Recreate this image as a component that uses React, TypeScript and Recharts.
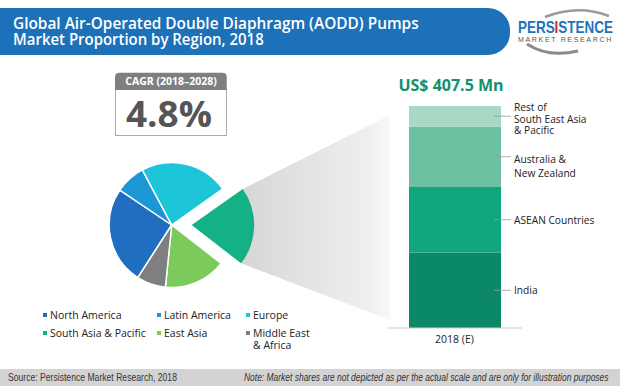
import React, { useLayoutEffect, useRef, useState } from "react";
import { PieChart, Pie, Cell, BarChart, Bar, XAxis, YAxis, LabelList, Legend } from "recharts";

// ---- data ----
const regionNames = ["North America", "Latin America", "Europe", "South Asia & Pacific", "East Asia", "Middle East & Africa"];
const regionShares = [25.3, 7.8, 23.0, 20.3, 16.1, 7.5];
const regionColors = ["#1f6ec0", "#1b97d5", "#1dc5d8", "#14b086", "#7cc95c", "#7f7f7f"];
const explodedRegion = "South Asia & Pacific";

const barCategory = ["2018 (E)"];
const subRegionKeys = ["india", "asean", "anz", "rest"];
const subRegionLabels = [["India"], ["ASEAN Countries"], ["Australia &", "New Zealand"], ["Rest of", "South East Asia", "& Pacific"]];
const subRegionShares = [34.0, 29.5, 27.3, 9.2];
const subRegionColors = ["#0b8865", "#11a77c", "#6bc1a0", "#a7d9c5"];

const legendLines = ["North America", "Latin America", "Europe", "South Asia & Pacific", "East Asia", "Middle East|& Africa"];

const titleLines = ["Global Air-Operated Double Diaphragm (AODD) Pumps", "Market Proportion by Region, 2018"];
const cagrLabel = "CAGR (2018\u20132028)";
const cagrValue = "4.8%";
const marketValue = "US$ 407.5 Mn";
const sourceText = "Source: Persistence Market Research, 2018";
const noteText = "Note: Market shares are not depicted as per the actual scale and are only for illustration purposes";

const pieData = regionNames.map((name, i) => ({ name, value: regionShares[i] }));
const barData = barCategory.map((cat) => {
  const row: Record<string, any> = { cat };
  subRegionKeys.forEach((k, i) => (row[k] = subRegionShares[i]));
  return row;
});

// ---- layout constants ----
const W = 620;
const H = 386;
const PIE_CX = 171.7;
const PIE_CY = 225;
const PIE_R = 62.5;
const EXPLODE = 20;
const START_ANGLE = 237.2;
const FONT = "'Open Sans', 'Noto Sans', sans-serif";

const explodedIdx = regionNames.indexOf(explodedRegion);
const totalShare = regionShares.reduce((a, b) => a + b, 0);
const before = regionShares.slice(0, explodedIdx).reduce((a, b) => a + b, 0);
const a1 = START_ANGLE - (before / totalShare) * 360;
const a2 = a1 - (regionShares[explodedIdx] / totalShare) * 360;
const rad = (d: number) => (d * Math.PI) / 180;
const ex = PIE_CX + EXPLODE;
const p1 = [ex + PIE_R * Math.cos(rad(a1)), PIE_CY - PIE_R * Math.sin(rad(a1))];
const p2 = [ex + PIE_R * Math.cos(rad(a2)), PIE_CY - PIE_R * Math.sin(rad(a2))];

// text squeezed horizontally to a given width
function FitText(props: any) {
  const { x, y, width, children, ...rest } = props;
  const ref = useRef<SVGTextElement>(null);
  const [s, setS] = useState(1);
  useLayoutEffect(() => {
    if (ref.current) {
      const w = ref.current.getComputedTextLength();
      if (w > 0) setS(width / w);
    }
  }, [width]);
  return (
    <text ref={ref} x={0} y={0} transform={`translate(${x},${y}) scale(${s},1)`} {...rest}>
      {children}
    </text>
  );
}

const BarLabel = (idx: number) => (props: any) => {
  const { x, y, width, height } = props;
  const mid = y + height / 2;
  const lines = subRegionLabels[idx];
  const right = x + width;
  const first = mid + (lines.length === 3 ? -9 : lines.length === 2 ? 2 : 0);
  const step = lines.length === 3 ? 11.5 : 14;
  return (
    <g>
      <line x1={right - 7} x2={right + 10} y1={mid} y2={mid} stroke="#9a9a9a" strokeWidth={0.8} />
      {lines.map((l, i) => (
        <text key={i} x={right + 13} y={first + i * step} fontSize={10.2} fill="#222" fontFamily={FONT} dominantBaseline="central">
          {l}
        </text>
      ))}
    </g>
  );
};

const LegendContent = () => {
  const colX = [43, 157, 246];
  const rowY = [309, 327];
  return (
    <div style={{ position: "absolute", left: 0, top: 0, width: W, height: H, pointerEvents: "none" }}>
      {legendLines.map((l, i) => {
        const c = i % 3;
        const r = Math.floor(i / 3);
        const parts = l.split("|");
        return (
          <div key={i} style={{ position: "absolute", left: colX[c], top: rowY[r], fontFamily: FONT, fontSize: 10.5, lineHeight: "12px", color: "#222", whiteSpace: "nowrap" }}>
            <span style={{ position: "absolute", left: 0, top: 4, width: 4, height: 4, background: regionColors[i] }} />
            <div style={{ marginLeft: 7 }}>
              {parts.map((p, j) => (
                <div key={j}>{p}</div>
              ))}
            </div>
          </div>
        );
      })}
    </div>
  );
};

export default function App() {
  return (
    <div style={{ position: "absolute", left: 0, top: 0, width: W, height: H, background: "#fff", overflow: "hidden", fontFamily: FONT }}>
      <svg width={W} height={H} style={{ position: "absolute", left: 0, top: 0 }}>
        <defs>
          <linearGradient id="funnel" x1="0" x2="1" y1="0" y2="0">
            <stop offset="0" stopColor="#d6d6d6" />
            <stop offset="0.85" stopColor="#efefef" />
            <stop offset="1" stopColor="#f8f8f8" />
          </linearGradient>
        </defs>
        {/* title bar */}
        <rect x={-30} y={8} width={540} height={47} rx={22} fill="#1d71b8" />
        <FitText x={13} y={29} width={406} fill="#fff" fontSize={15.5} fontWeight={600} fontFamily={FONT}>
          {titleLines[0]}
        </FitText>
        <FitText x={13} y={45} width={251} fill="#fff" fontSize={15.5} fontWeight={600} fontFamily={FONT}>
          {titleLines[1]}
        </FitText>
        {/* logo */}
        <path d="M 545 17 Q 578 4 609 16" stroke="#9b9b9b" strokeWidth={2.5} fill="none" />
        <path d="M 527 44 Q 548 58 578 51" stroke="#8a8a8a" strokeWidth={3} fill="none" />
        <FitText x={518} y={33} width={95} fontSize={16} fontWeight={700} fontFamily="'Liberation Sans', sans-serif" fill="#1e73be">
          PERS<tspan fill="#d8262e">I</tspan>STENCE
        </FitText>
        <FitText x={518} y={42} width={95} fontSize={7} letterSpacing={1.6} fontFamily="'Liberation Sans', sans-serif" fill="#555">
          MARKET RESEARCH
        </FitText>
        {/* CAGR box */}
        <rect x={115.5} y={88} width={111} height={47.5} fill="#fff" stroke="#aaa" strokeWidth={1} />
        <path d="M 115 90 L 115 77 Q 115 72.7 119.5 72.7 L 222.2 72.7 Q 226.7 72.7 226.7 77 L 226.7 90 Z" fill="#7f7f7f" />
        <text x={171} y={85} textAnchor="middle" fill="#fff" fontSize={10.5} fontWeight={700} fontFamily={FONT}>
          {cagrLabel}
        </text>
        <FitText x={126} y={127} width={86} fill="#555" fontSize={36} fontWeight={700} fontFamily={FONT}>
          {cagrValue}
        </FitText>
        {/* funnel */}
        <path d={`M ${p1[0]} ${p1[1]} L 390 115 L 390 320 L ${p2[0]} ${p2[1]} Z`} fill="url(#funnel)" />
        {/* market value */}
        <text x={451} y={91} textAnchor="middle" fill="#13906b" fontSize={16} fontWeight={700} fontFamily={FONT}>
          {marketValue}
        </text>
        {/* footer */}
        <rect x={0} y={369} width={W} height={17} fill="#d3d3d3" />
        <FitText x={8} y={381} width={169} fontSize={10} fill="#333" fontFamily="'Liberation Sans', sans-serif">
          {sourceText}
        </FitText>
        <FitText x={244} y={381} width={365} fontSize={10} fontStyle="italic" fill="#333" fontFamily="'Liberation Sans', sans-serif">
          {noteText}
        </FitText>
      </svg>

      <div style={{ position: "absolute", left: 0, top: 0 }}>
        <PieChart width={W} height={H} margin={{ top: 0, right: 0, bottom: 0, left: 0 }}>
          <Pie
            data={pieData}
            dataKey="value"
            nameKey="name"
            cx={PIE_CX}
            cy={PIE_CY}
            outerRadius={PIE_R}
            startAngle={START_ANGLE}
            endAngle={START_ANGLE - 360}
            isAnimationActive={false}
            stroke="#fff"
            strokeWidth={1.5}
          >
            {pieData.map((d, i) => (
              <Cell key={i} fill={d.name === explodedRegion ? "none" : regionColors[i]} stroke={d.name === explodedRegion ? "none" : "#fff"} />
            ))}
          </Pie>
          <Pie
            data={pieData}
            dataKey="value"
            nameKey="name"
            cx={PIE_CX + EXPLODE}
            cy={PIE_CY}
            outerRadius={PIE_R}
            startAngle={START_ANGLE}
            endAngle={START_ANGLE - 360}
            isAnimationActive={false}
            stroke="none"
          >
            {pieData.map((d, i) => (
              <Cell key={i} fill={d.name === explodedRegion ? regionColors[i] : "none"} stroke="none" />
            ))}
          </Pie>
          <Legend content={LegendContent} wrapperStyle={{ position: "absolute", left: 0, top: 0, width: W, height: H }} />
        </PieChart>
      </div>

      <div style={{ position: "absolute", left: 0, top: 0 }}>
        <BarChart width={W} height={H} data={barData} margin={{ top: 106, right: 98, bottom: 28, left: 387 }} barCategoryGap={0}>
          <XAxis dataKey="cat" height={30} tickLine={false} axisLine={{ stroke: "#cfcfcf" }} tick={{ fontSize: 10.5, fill: "#222", fontFamily: FONT }} />
          <YAxis hide domain={[0, 100]} width={0} />
          {subRegionKeys.map((k, i) => (
            <Bar key={k} dataKey={k} stackId="a" fill={subRegionColors[i]} barSize={92} isAnimationActive={false}>
              <LabelList dataKey={k} content={BarLabel(i)} />
            </Bar>
          ))}
        </BarChart>
      </div>
    </div>
  );
}
